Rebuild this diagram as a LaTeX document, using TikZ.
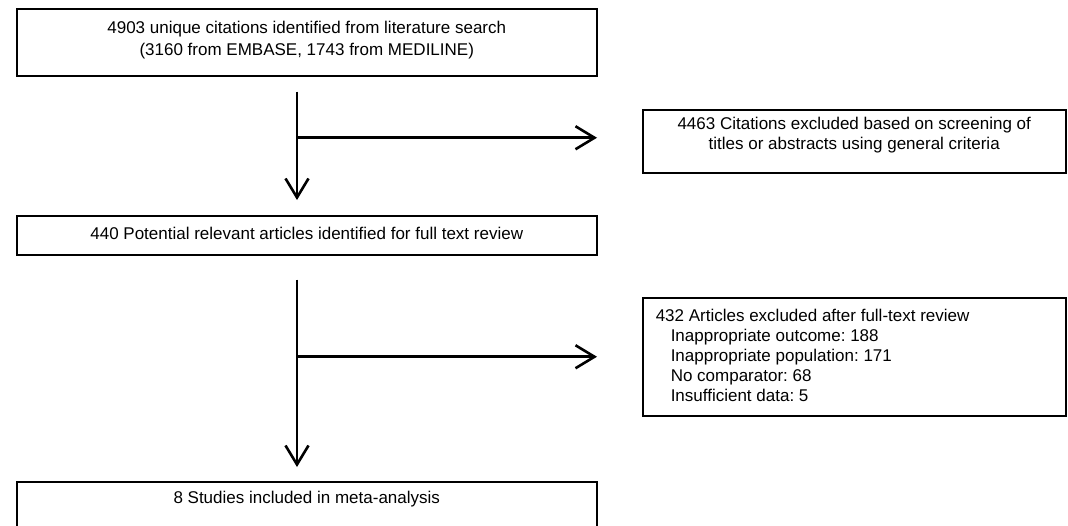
\documentclass[tikz,border=0pt]{standalone}
\usepackage{fontspec}
\setmainfont{Liberation Sans}
\usetikzlibrary{arrows.meta,calc}
\frenchspacing
\newcommand\boxtext[4]{\parbox[c][#2][t]{#1}{\rule{0pt}{#3}#4}}
\begin{document}
\begin{tikzpicture}[x=1pt,y=-1pt,
  box/.style={draw=black,line width=1.5pt,inner sep=0pt,anchor=north west,font=\fontsize{17}{20}\selectfont},
  flow/.style={line width=2.6pt,-{Straight Barb[length=19pt,width=23pt,line width=2.6pt]}}]
\useasboundingbox (0,0) rectangle (1068,525);
\begin{scope}
\clip (0,0) rectangle (1068,525);
\node[box] (b1) at (16,8)
  {\boxtext{580pt}{67pt}{25pt}{\centering\fontsize{17}{22}\selectfont 4903 unique citations identified from literature search\\(3160 from EMBASE, 1743 from MEDILINE)}};
\node[box] (b2) at (642,109)
  {\boxtext{423pt}{63pt}{20pt}{\centering 4463 Citations excluded based on screening of\\titles or abstracts using general criteria}};
\node[box] (b3) at (16,215)
  {\boxtext{580pt}{39pt}{24pt}{\centering 440 Potential relevant articles identified for full text review}};
\node[box] (b4) at (642,297)
  {\boxtext{423pt}{118pt}{24pt}{\raggedright
   \hspace*{13pt}432 Articles excluded after full-text review\\
   \hspace*{28pt}Inappropriate outcome: 188\\
   \hspace*{28pt}Inappropriate population: 171\\
   \hspace*{28pt}No comparator: 68\\
   \hspace*{28pt}Insufficient data: 5}};
\node[box] (b5) at (16,481)
  {\boxtext{580pt}{70pt}{22pt}{\centering 8 Studies included in meta-analysis}};
\end{scope}
\coordinate (x1) at (297,0);
\coordinate (j1) at ([yshift=3.5pt]b2.west);
\draw[flow,shorten <=15pt,shorten >=15pt] (b1.south -| x1) -- (b3.north -| x1);
\draw[flow,shorten >=45pt] (j1 -| x1) -- (j1);
\draw[flow,shorten <=24pt,shorten >=14pt] (b3.south -| x1) -- (b5.north -| x1);
\draw[flow,shorten >=45pt] (b4.west -| x1) -- (b4.west);
\end{tikzpicture}
\end{document}
